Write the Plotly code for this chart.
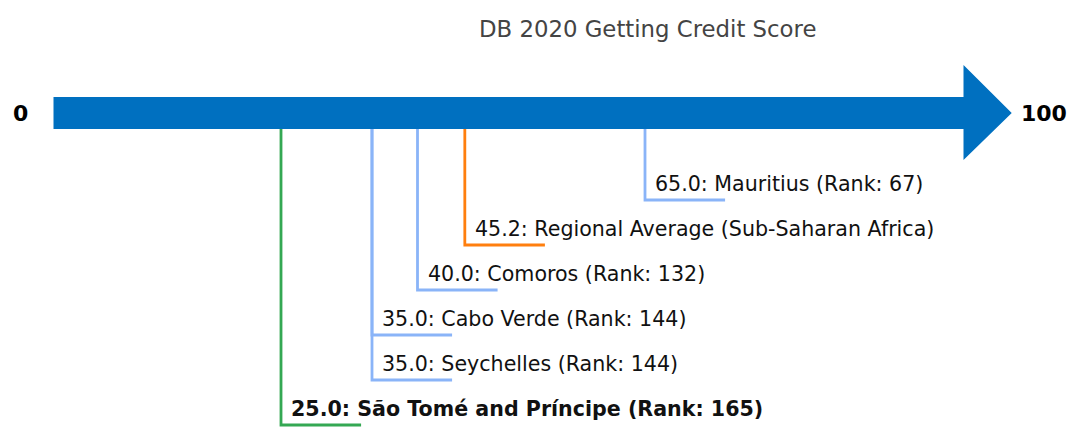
import plotly.graph_objects as go

# ---- data ----
names = ["São Tomé and Príncipe", "Seychelles", "Cabo Verde", "Comoros",
         "Regional Average (Sub-Saharan Africa)", "Mauritius"]
scores = [25.0, 35.0, 35.0, 40.0, 45.2, 65.0]
ranks = [165, 144, 144, 132, None, 67]
kinds = ["focus", "peer", "peer", "peer", "regional", "peer"]
axis_ends = [0, 100]
title = "DB 2020 Getting Credit Score"

# ---- styling / layout constants ----
W, H = 1072, 427
PX_PER_UNIT = 9.1
X0_PX = 53.5
x_lo = -X0_PX / PX_PER_UNIT
x_hi = (W - X0_PX) / PX_PER_UNIT
colors = {"focus": "#34a853", "peer": "#8ab4f8", "regional": "#ff7f0e"}
ARROW = "#0070c0"
shaft_top, shaft_bot = 97, 129
head_top, head_bot, mid_y = 65, 160, 113
head_len = 5.3
tick_len = 8.8
bottom_level = 425
step = 45

fig = go.Figure()

lo, hi = axis_ends
fig.add_shape(type="path",
              path=(f"M {lo},{shaft_top} L {hi},{shaft_top} L {hi},{head_top} "
                    f"L {hi + head_len},{mid_y} L {hi},{head_bot} L {hi},{shaft_bot} "
                    f"L {lo},{shaft_bot} Z"),
              fillcolor=ARROW, line=dict(width=0), layer="below")

annotations = []
for i, (n, s, r, k) in enumerate(zip(names, scores, ranks, kinds)):
    y = bottom_level - step * i
    fig.add_trace(go.Scatter(x=[s, s, s + tick_len], y=[shaft_bot, y, y],
                             mode="lines", line=dict(color=colors[k], width=2.8),
                             hoverinfo="skip", showlegend=False))
    label = f"{s:.1f}: {n}" + (f" (Rank: {r})" if r is not None else "")
    if k == "focus":
        label = f"<b>{label}</b>"
    annotations.append(dict(x=s + 0.9, y=y - 16, text=label, showarrow=False,
                            xanchor="left", yanchor="middle",
                            font=dict(size=20.6, color="#111111",
                                      family="DejaVu Sans")))

annotations.append(dict(x=lo - 3.6, y=mid_y, text=f"<b>{lo}</b>", showarrow=False,
                        xanchor="center", yanchor="middle",
                        font=dict(size=22, color="#000", family="DejaVu Sans")))
annotations.append(dict(x=hi + 6.1, y=mid_y, text=f"<b>{hi}</b>", showarrow=False,
                        xanchor="left", yanchor="middle",
                        font=dict(size=22, color="#000", family="DejaVu Sans")))
annotations.append(dict(x=(476.7 - X0_PX) / PX_PER_UNIT, y=29, text=title,
                        showarrow=False, xanchor="left", yanchor="middle",
                        font=dict(size=22.8, color="#444444", family="DejaVu Sans")))

fig.update_layout(
    width=W, height=H,
    margin=dict(l=0, r=0, t=0, b=0),
    paper_bgcolor="white", plot_bgcolor="white",
    xaxis=dict(range=[x_lo, x_hi], visible=False, fixedrange=True),
    yaxis=dict(range=[H, 0], visible=False, fixedrange=True),
    annotations=annotations,
    showlegend=False,
)

fig.write_html("out.html",
               config={"displayModeBar": False},
               post_script="document.body.style.margin='0';document.body.style.overflow='hidden';")
